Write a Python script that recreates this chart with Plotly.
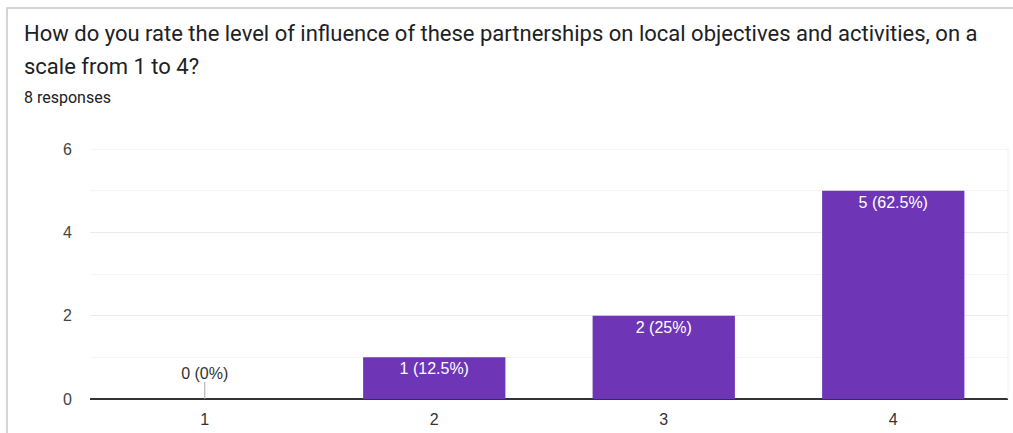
import plotly.graph_objects as go

categories = ["1", "2", "3", "4"]
counts = [0, 1, 2, 5]
y_ticks = [0, 2, 4, 6]

title_line1 = "How do you rate the level of influence of these partnerships on local objectives and activities, on a"
title_line2 = "scale from 1 to 4?"
subtitle = "8 responses"

total = sum(counts)
labels = [f"{c} ({c / total * 100:g}%)" for c in counts]

W, H = 1013, 433
L, R, T, B = 90, 5, 149, 34
pw, ph = W - L - R, H - T - B

def px_x(x):
    return (x - L) / pw

def px_y(y):
    return (H - B - y) / ph

bar_color = "#6e36b6"
title_font = "Roboto, 'Open Sans', Arial, sans-serif"
chart_font = "Arial, 'Liberation Sans', sans-serif"

zero_cats = [c for c, v in zip(categories, counts) if v == 0]
zero_labels = [l for l, v in zip(labels, counts) if v == 0]

fig = go.Figure()
fig.add_trace(go.Bar(
    x=categories, y=counts,
    marker=dict(color=bar_color, line=dict(width=0)),
    text=[l if v > 0 else "" for l, v in zip(labels, counts)],
    textposition="inside", insidetextanchor="end",
    textfont=dict(color="white", size=16, family=chart_font),
    hoverinfo="skip", showlegend=False,
))
fig.add_trace(go.Scatter(
    x=zero_cats, y=[0] * len(zero_cats),
    mode="markers+text",
    marker=dict(size=24, color="rgba(0,0,0,0)"),
    text=zero_labels, textposition="top center",
    textfont=dict(color="#333333", size=16, family=chart_font),
    error_y=dict(type="data", symmetric=False, array=[0.41] * len(zero_cats),
                 arrayminus=[0] * len(zero_cats), color="#aaaaaa", thickness=1, width=0),
    hoverinfo="skip", showlegend=False,
))

fig.update_layout(
    width=W, height=H,
    margin=dict(l=L, r=R, t=T, b=B),
    paper_bgcolor="white", plot_bgcolor="white",
    bargap=0.38,
    font=dict(family=chart_font, color="#444444", size=16),
    xaxis=dict(
        type="category", showgrid=False, showline=False, zeroline=False,
        ticks="", tickfont=dict(size=16, color="#333333"), ticklabelstandoff=9,
        fixedrange=True,
    ),
    yaxis=dict(
        range=[0, 6], tickvals=y_ticks, showgrid=True, gridcolor="#ebebeb", gridwidth=1,
        minor=dict(showgrid=True, gridcolor="#f4f4f4", gridwidth=1, tickvals=[1, 3, 5]),
        zeroline=True, zerolinecolor="#333333", zerolinewidth=2,
        showline=False, ticks="", tickfont=dict(size=16, color="#444444"),
        ticklabelstandoff=17,
    ),
    shapes=[
        dict(type="rect", xref="paper", yref="paper",
             x0=px_x(7), x1=px_x(W + 20), y0=px_y(H + 20), y1=px_y(8),
             line=dict(color="#c8c8c8", width=1.5), fillcolor="rgba(0,0,0,0)", layer="below"),
        dict(type="line", xref="paper", yref="paper",
             x0=1, x1=1, y0=0, y1=1, line=dict(color="#f0f0f0", width=1)),
        dict(type="line", xref="paper", yref="y",
             x0=0, x1=1, y0=y_ticks[-1], y1=y_ticks[-1], line=dict(color="#ebebeb", width=1),
             layer="below"),
    ],
    annotations=[
        dict(text=title_line1, xref="paper", yref="paper", x=px_x(22), y=px_y(33),
             xanchor="left", yanchor="middle", showarrow=False,
             font=dict(size=22, color="#202124", family=title_font)),
        dict(text=title_line2, xref="paper", yref="paper", x=px_x(22), y=px_y(67),
             xanchor="left", yanchor="middle", showarrow=False,
             font=dict(size=22, color="#202124", family=title_font)),
        dict(text=subtitle, xref="paper", yref="paper", x=px_x(22), y=px_y(97),
             xanchor="left", yanchor="middle", showarrow=False,
             font=dict(size=16, color="#202124", family=title_font)),
    ],
)

fig.write_html("out.html")
